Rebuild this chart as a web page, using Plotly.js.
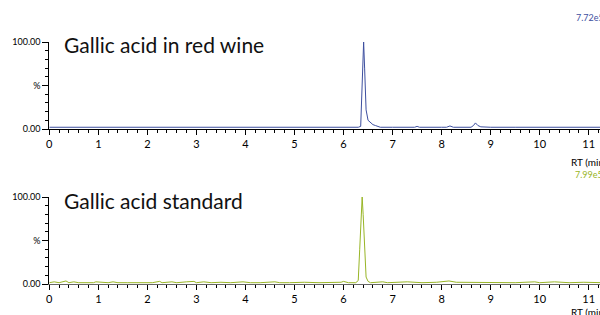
<!DOCTYPE html>
<html>
<head>
<meta charset="utf-8">
<script src="https://cdn.plot.ly/plotly-3.0.1.min.js"></script>
<style>
html,body{margin:0;padding:0;overflow:hidden;background:#fff;}
#chart{width:600px;height:315px;}
</style>
</head>
<body>
<div id="chart"></div>
<script>
// Red wine sample (blue trace): retention time (min) and relative intensity (%)
var wineRT = [0, 0.5, 1.0, 1.5, 2.0, 2.5, 3.0, 3.5, 4.0, 4.5, 5.0, 5.5, 6.0, 6.30, 6.35, 6.38, 6.41, 6.43, 6.46, 6.50, 6.55, 6.60, 6.65, 6.70, 6.75, 7.0, 7.45, 7.50, 7.55, 8.0, 8.10, 8.17, 8.24, 8.60, 8.65, 8.69, 8.74, 8.80, 9.0, 9.5, 10.0, 10.5, 11.0, 11.3];
var wineInt = [2, 2, 2, 2, 2, 2, 2, 2, 2, 2, 2, 2, 2, 2, 3, 55, 100, 70, 22, 10, 7, 5, 4, 3, 2, 2, 2, 3, 2, 2, 2, 3.5, 2, 2, 4, 7, 4, 2.5, 2, 2, 2, 2, 2, 2];

// Gallic acid standard (green trace)
var stdRT = [0, 0.1, 0.2, 0.3, 0.34, 0.4, 0.5, 0.6, 0.9, 0.95, 1.2, 1.3, 1.4, 1.6, 1.9, 2.1, 2.25, 2.3, 2.5, 2.6, 2.8, 2.95, 3.0, 3.15, 3.3, 3.5, 3.7, 3.95, 4.1, 4.3, 4.6, 4.7, 4.9, 5.2, 5.5, 5.7, 5.95, 6.0, 6.1, 6.25, 6.30, 6.33, 6.36, 6.38, 6.40, 6.43, 6.46, 6.50, 6.55, 6.8, 6.9, 7.3, 7.6, 7.9, 8.15, 8.3, 8.6, 8.9, 9.2, 9.5, 9.9, 10.0, 10.3, 10.6, 10.9, 11.1, 11.3];
var stdInt = [1.5, 2.5, 1.5, 2.5, 3.5, 1.5, 2.5, 1.5, 1.5, 2.5, 1.5, 2.5, 1.5, 1.5, 1.5, 1.5, 3, 1.5, 2.5, 1.5, 2.5, 3, 1.5, 2.5, 1.5, 2, 1.5, 2.5, 1.5, 1.5, 2.5, 1.5, 1.5, 2, 1.5, 1.5, 2, 3, 1.5, 1.5, 4, 40, 85, 100, 80, 35, 8, 3, 1.5, 2.5, 1.5, 2.5, 1.5, 2, 3.5, 2, 2, 1.5, 2, 1.5, 2.5, 1.5, 2.5, 1.5, 2, 1.5, 1.5];

var panelTitles = ["Gallic acid in red wine", "Gallic acid standard"];
var intensityLabels = ["7.72e5", "7.99e5"];
var yTickVals = [0, 50, 100];
var yTickText = ["0.00", "%", "100.00"];
var xTickVals = [0, 1, 2, 3, 4, 5, 6, 7, 8, 9, 10, 11];
var xAxisLabel = "RT (min)";

var blue = "#3d4f9f", green = "#98b526";

var traces = [
  {x: wineRT, y: wineInt, type: "scatter", mode: "lines", line: {color: blue, width: 1}, xaxis: "x", yaxis: "y", hoverinfo: "skip"},
  {x: stdRT, y: stdInt, type: "scatter", mode: "lines", line: {color: green, width: 1}, xaxis: "x2", yaxis: "y2", hoverinfo: "skip"}
];

function xax(anchor, lineColor) {
  return {
    anchor: anchor, domain: [49.3/600, 1], range: [0, 11.23],
    showgrid: false, zeroline: false, showline: true, linecolor: lineColor, linewidth: 1,
    tickmode: "array", tickvals: xTickVals, ticks: "outside", ticklen: 5, tickcolor: "#000", tickwidth: 1,
    minor: {dtick: 0.2, tick0: 0, ticks: "outside", ticklen: 3, tickcolor: "#000", tickwidth: 1},
    tickfont: {family: "Lato, sans-serif", size: 11, color: "#000"}, fixedrange: true
  };
}
function yax(anchor, dom) {
  return {
    anchor: anchor, domain: dom, range: [0, 100],
    showgrid: false, zeroline: false, showline: true, linecolor: "#000", linewidth: 1,
    tickmode: "array", tickvals: yTickVals, ticktext: yTickText, ticks: "outside", ticklen: 6, tickcolor: "#000", tickwidth: 1,
    minor: {dtick: 10, tick0: 0, ticks: "outside", ticklen: 3, tickcolor: "#000", tickwidth: 1},
    tickfont: {family: "Lato, sans-serif", size: 9, color: "#000"}, fixedrange: true
  };
}

var layout = {
  width: 600, height: 315,
  margin: {l: 0, r: 0, t: 0, b: 0},
  paper_bgcolor: "#fff", plot_bgcolor: "rgba(0,0,0,0)",
  showlegend: false,
  xaxis: xax("y", "#000"),
  yaxis: yax("x", [1 - 129/315, 1 - 42/315]),
  xaxis2: xax("y2", "#666"),
  yaxis2: yax("x2", [1 - 284/315, 1 - 197/315]),
  annotations: [
    {text: panelTitles[0], xref: "paper", yref: "paper", x: 62/600, y: 1 - 45/315, xanchor: "left", yanchor: "middle", showarrow: false, font: {family: "Lato, sans-serif", size: 21, color: "#111"}},
    {text: panelTitles[1], xref: "paper", yref: "paper", x: 62/600, y: 1 - 200/315, xanchor: "left", yanchor: "middle", showarrow: false, font: {family: "Lato, sans-serif", size: 21, color: "#111"}},
    {text: intensityLabels[0], xref: "paper", yref: "paper", x: 574/600, y: 1 - 17/315, xanchor: "left", yanchor: "middle", showarrow: false, font: {family: "Lato, sans-serif", size: 9, color: blue}},
    {text: intensityLabels[1], xref: "paper", yref: "paper", x: 573/600, y: 1 - 174/315, xanchor: "left", yanchor: "middle", showarrow: false, font: {family: "Lato, sans-serif", size: 9, color: green}},
    {text: xAxisLabel, xref: "paper", yref: "paper", x: 569/600, y: 1 - 162/315, xanchor: "left", yanchor: "middle", showarrow: false, font: {family: "Lato, sans-serif", size: 10, color: "#000"}},
    {text: xAxisLabel, xref: "paper", yref: "paper", x: 569/600, y: 1 - 312/315, xanchor: "left", yanchor: "middle", showarrow: false, font: {family: "Lato, sans-serif", size: 10, color: "#000"}}
  ]
};

Plotly.newPlot("chart", traces, layout, {displayModeBar: false, staticPlot: true});
</script>
</body>
</html>
